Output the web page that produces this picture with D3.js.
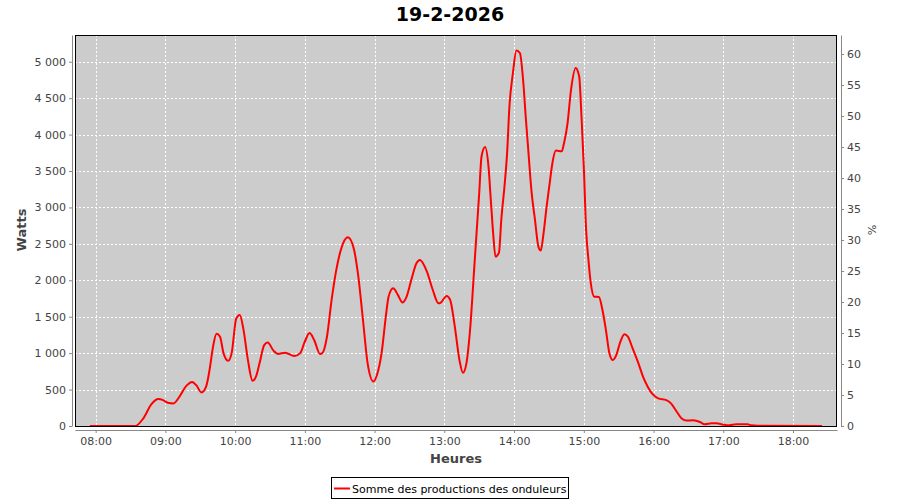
<!DOCTYPE html>
<html><head><meta charset="utf-8">
<script src="https://cdn.jsdelivr.net/npm/d3@7"></script>
<style>
html,body{margin:0;padding:0;background:#fff;}
text{font-family:"DejaVu Sans",sans-serif;}
</style></head>
<body><svg id="c" width="900" height="500"></svg>
<script>
const title = "19-2-2026";
const seriesName = "Somme des productions des onduleurs";
const times = ["07:55","08:34","08:41","08:48","08:54","08:58","09:02","09:07","09:12","09:18","09:23","09:27","09:31","09:35","09:38","09:41","09:44","09:47","09:50","09:54","09:57","10:01","10:04","10:07","10:11","10:15","10:18","10:21","10:25","10:28","10:33","10:37","10:43","10:51","10:56","11:00","11:04","11:08","11:13","11:15","11:19","11:23","11:27","11:31","11:37","11:42","11:46","11:50","11:54","11:59","12:02","12:06","12:10","12:12","12:16","12:20","12:24","12:27","12:32","12:36","12:39","12:45","12:50","12:55","12:57","13:02","13:05","13:09","13:13","13:16","13:19","13:22","13:26","13:28","13:30","13:32","13:35","13:38","13:40","13:42","13:44","13:47","13:49","13:52","13:54","13:56","13:59","14:02","14:05","14:08","14:10","14:12","14:15","14:18","14:21","14:23","14:25","14:28","14:31","14:33","14:36","14:41","14:43","14:46","14:49","14:53","14:56","14:58","15:00","15:02","15:04","15:06","15:09","15:13","15:16","15:19","15:22","15:25","15:28","15:31","15:35","15:38","15:42","15:47","15:51","15:55","15:59","16:04","16:11","16:15","16:20","16:24","16:28","16:34","16:40","16:44","16:50","16:54","17:00","17:05","17:11","17:21","17:24","17:30","18:25"];
const watts = [0,0,105,300,370,355,320,310,400,550,605,550,460,540,770,1090,1265,1225,1000,895,1000,1480,1525,1340,905,620,680,860,1110,1145,1035,990,1005,960,1000,1160,1275,1180,990,1000,1225,1730,2140,2420,2590,2440,2050,1455,860,610,700,1000,1550,1775,1890,1800,1695,1755,2030,2235,2280,2120,1870,1685,1695,1785,1730,1365,905,730,860,1295,2235,2715,3195,3700,3830,3560,3100,2645,2325,2380,2830,3335,3745,4385,4845,5155,5120,4705,4250,3835,3220,2830,2455,2410,2600,3010,3380,3610,3780,3770,3885,4155,4615,4915,4800,4250,3560,2690,2280,1960,1775,1770,1595,1320,1000,905,975,1135,1260,1225,1065,860,675,540,440,380,355,310,195,105,75,78,55,23,37,37,18,9,23,23,9,3,0];
const xTickLabels = ["08:00","09:00","10:00","11:00","12:00","13:00","14:00","15:00","16:00","17:00","18:00"];
const wattTicks = [0,500,1000,1500,2000,2500,3000,3500,4000,4500,5000];
const pctTicks = [0,5,10,15,20,25,30,35,40,45,50,55,60];

const parse = d3.timeParse("%Y-%m-%d %H:%M:%S");
const day = "2026-02-19 ";
const data = times.map((t,i)=>({t:parse(day+t+":00"), v:watts[i]}));

const L=75, R=837, T=35, B=426;
const svg = d3.select("#c");
const x = d3.scaleTime().domain([parse(day+"07:42:13"), parse(day+"18:37:51")]).range([L,R]);
const y = d3.scaleLinear().domain([0,5367]).range([B,T]);
const y2 = d3.scaleLinear().domain([0,63.07]).range([B,T]);
const hourTicks = xTickLabels.map(s=>parse(day+s+":00"));
const fmtW = v => d3.format(",")(v).replace(/,/g," ");

// plot background
svg.append("rect").attr("x",L).attr("y",T).attr("width",R-L).attr("height",B-T).attr("fill","#cccccc");

// grid
const g = svg.append("g").attr("stroke","#fff").attr("stroke-width",1).attr("stroke-dasharray","2,2");
hourTicks.forEach(d=>{ const px=Math.round(x(d))+0.5; g.append("line").attr("x1",px).attr("x2",px).attr("y1",T).attr("y2",B);});
wattTicks.forEach(d=>{ if(d===0) return; const py=Math.round(y(d))+0.5; g.append("line").attr("x1",L).attr("x2",R).attr("y1",py).attr("y2",py);});

// series line
const line = d3.line().x(d=>x(d.t)).y(d=>y(d.v)).curve(d3.curveMonotoneX);
svg.append("path").datum(data).attr("d",line).attr("fill","none").attr("stroke","#ff0000").attr("stroke-width",2).attr("stroke-linejoin","round");

// plot border
svg.append("rect").attr("x",L+0.5).attr("y",T+0.5).attr("width",R-L-1).attr("height",B-T).attr("fill","none").attr("stroke","#000").attr("stroke-width",1);

// axes
function styleAxis(sel){
  sel.selectAll("path").attr("stroke","#888");
  sel.selectAll("line").attr("stroke","#888");
  sel.selectAll("text").attr("fill","#444").style("font-size","11px").style("font-family","'DejaVu Sans',sans-serif");
}
const xAxis = d3.axisBottom(x).tickValues(hourTicks).tickFormat(d3.timeFormat("%H:%M")).tickSizeInner(3).tickSizeOuter(0).tickPadding(4);
svg.append("g").attr("transform",`translate(0,${B+4})`).call(xAxis).call(styleAxis);
const yAxis = d3.axisLeft(y).tickValues(wattTicks).tickFormat(fmtW).tickSizeInner(3).tickSizeOuter(0).tickPadding(3);
svg.append("g").attr("transform",`translate(${L-3},0)`).call(yAxis).call(styleAxis);
const y2Axis = d3.axisRight(y2).tickValues(pctTicks).tickSizeInner(3).tickSizeOuter(0).tickPadding(3);
svg.append("g").attr("transform",`translate(${R+4},0)`).call(y2Axis).call(styleAxis);

// title
svg.append("text").attr("x",450).attr("y",21).attr("text-anchor","middle").attr("font-weight","bold").attr("font-size",19).attr("fill","#000").text(title);
// axis labels
svg.append("text").attr("transform","translate(26,230) rotate(-90)").attr("text-anchor","middle").attr("font-weight","bold").attr("font-size",13).attr("fill","#444").text("Watts");
svg.append("text").attr("x",456).attr("y",463).attr("text-anchor","middle").attr("font-weight","bold").attr("font-size",13).attr("fill","#444").text("Heures");
svg.append("text").attr("transform","translate(868,230) rotate(90)").attr("text-anchor","middle").attr("font-size",11).attr("fill","#444").text("%");

// legend
svg.append("rect").attr("x",331.5).attr("y",477.5).attr("width",237).attr("height",21).attr("fill","#fff").attr("stroke","#000");
svg.append("line").attr("x1",334).attr("x2",350).attr("y1",488.5).attr("y2",488.5).attr("stroke","#ff0000").attr("stroke-width",2);
svg.append("text").attr("x",352).attr("y",492.5).attr("font-size",11).attr("fill","#000").text(seriesName);
</script></body></html>
